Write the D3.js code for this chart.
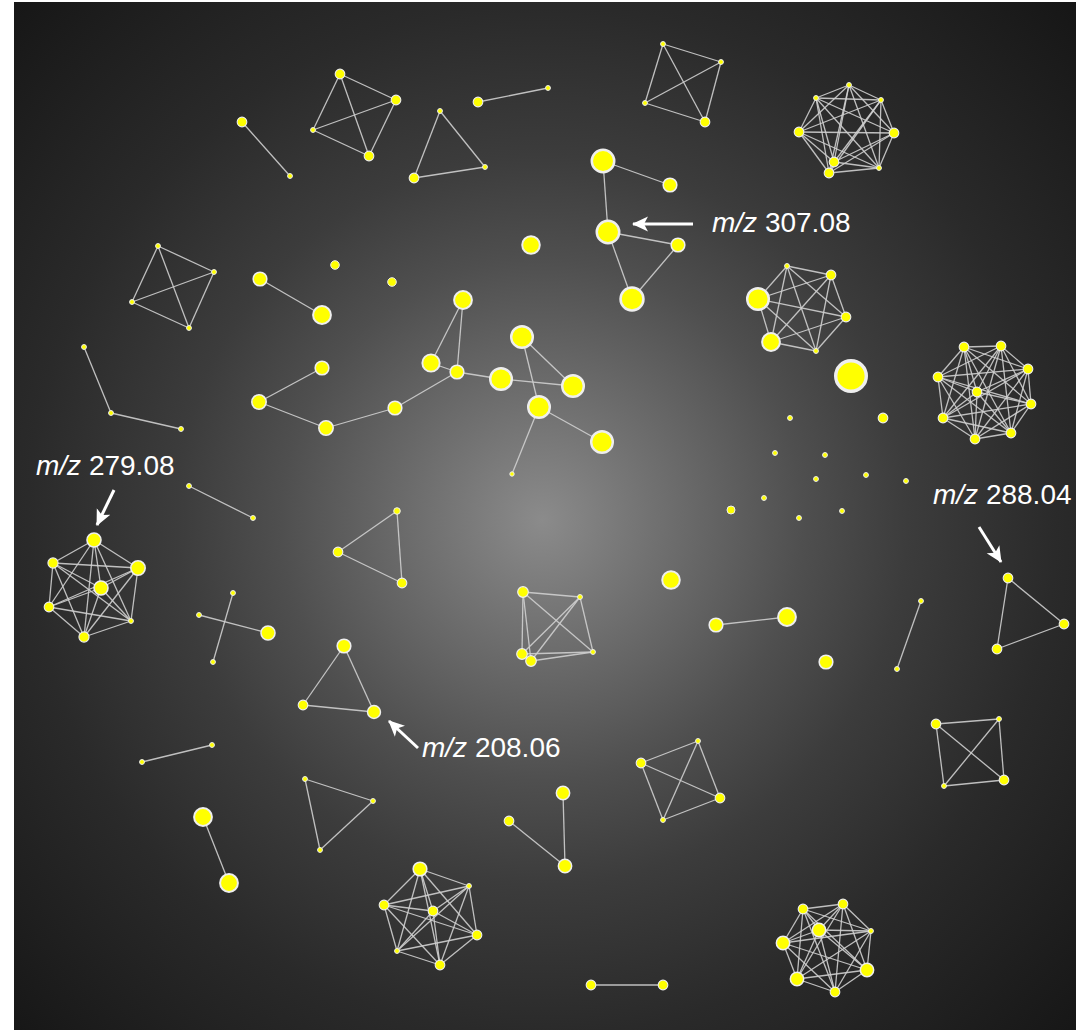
<!DOCTYPE html>
<html>
<head>
<meta charset="utf-8">
<script src="https://cdn.jsdelivr.net/npm/d3@7"></script>
<style>
  html, body { margin: 0; padding: 0; background: #ffffff; }
  svg { display: block; }
</style>
</head>
<body>
<svg id="chart" width="1076" height="1030"></svg>
<script>
// Molecular network: nodes = spectra [id, layoutX, layoutY, intensity]
const nodes = [
  ["a1",326,72,10],["a2",299,128,3],["a3",382,98,10],["a4",355,154,10],
  ["b1",228,120,10],["b2",276,174,3],
  ["c1",426,109,3],["c2",400,176,10],["c3",471,165,3],
  ["d1",464,100,10],["d2",534,86,3],
  ["e1",649,42,3],["e2",707,60,3],["e3",631,101,3],["e4",691,120,10],
  ["f1",835,83,3],["f2",802,96,3],["f3",867,98,3],["f4",785,130,10],
  ["f5",880,131,10],["f6",820,160,10],["f7",815,171,10],["f8",865,166,3],
  ["g1",589,159,54],["g2",656,183,20],["g3",594,230,54],["g4",664,243,20],["g5",618,297,56],
  ["s1",517,243,33],["s2",321,263,8],["s3",378,280,8],
  ["h1",144,244,3],["h2",200,270,3],["h3",118,300,3],["h4",175,326,3],
  ["i1",246,277,20],["i2",308,313,34],
  ["j1",70,345,3],["j2",97,411,3],["j3",167,427,3],
  ["A",308,366,20],["B",245,400,22],["C",312,426,22],["D",381,406,20],["E",443,370,20],
  ["F",449,298,34],["G",417,361,32],["H",487,377,50],["I",508,335,50],["J",559,384,50],
  ["K",525,405,50],["L",588,440,50],["M",498,472,2.5],
  ["k1",773,264,3],["k2",817,273,10],["k3",744,297,50],["k4",832,315,10],["k5",757,340,34],["k6",802,349,3],
  ["s4",837,374,100],["s5",869,416,10],
  ["t1",776,416,3],["t2",761,451,3],["t3",811,453,3],["t4",802,477,3],["t5",852,473,3],
  ["t6",892,479,3],["t7",750,496,3],["t8",828,509,3],["t9",717,508,7],["t10",785,516,3],
  ["m1",950,345,10],["m2",987,344,10],["m3",1014,367,10],["m4",924,375,10],["m5",963,390,10],
  ["m6",1017,402,10],["m7",929,416,10],["m8",997,431,10],["m9",961,437,10],
  ["n1",175,484,3],["n2",239,516,3],
  ["o1",80,538,21],["o2",39,561,11],["o3",124,566,22],["o4",87,586,21],["o5",35,605,10],["o6",117,619,3],["o7",70,635,11],
  ["p1",185,613,3],["p2",254,631,21],["p3",219,591,3],["p4",199,660,3],
  ["q1",324,550,10],["q2",383,509,5],["q3",388,581,10],
  ["r1",330,644,20],["r2",289,703,10],["r3",360,710,18],
  ["u1",128,760,3],["u2",198,743,3],
  ["v1",509,590,12],["v2",566,595,3],["v3",508,652,12],["v4",517,659,12],["v5",579,650,3],
  ["s6",657,578,33],
  ["w1",702,623,20],["w2",773,615,34],
  ["s7",812,660,20],
  ["x1",907,599,3],["x2",883,667,3],
  ["y1",994,576,10],["y2",1050,622,10],["y3",983,647,10],
  ["z1",922,722,10],["z2",985,717,3],["z3",930,784,3],["z4",990,778,10],
  ["aa1",627,761,10],["aa2",684,739,3],["aa3",706,796,10],["aa4",649,818,3],
  ["bb1",189,815,34],["bb2",215,881,34],
  ["cc1",291,777,3],["cc2",359,799,3],["cc3",306,848,3],
  ["dd1",549,791,19],["dd2",495,819,10],["dd3",551,864,19],
  ["ee1",406,867,20],["ee2",455,884,3],["ee3",370,903,10],["ee4",419,909,10],
  ["ee5",463,933,10],["ee6",383,949,3],["ee7",426,963,10],
  ["ff1",577,983,10],["ff2",649,983,10],
  ["gg1",789,907,10],["gg2",829,902,10],["gg3",857,929,3],["gg4",805,928,19],
  ["gg5",769,941,19],["gg6",853,968,19],["gg7",783,977,19],["gg8",821,990,10]
];

// Fully connected clusters (every member pair is linked)
const cliques = [
  ["a1","a2","a3","a4"],
  ["c1","c2","c3"],
  ["e1","e2","e3","e4"],
  ["f1","f2","f3","f4","f5","f6","f7","f8"],
  ["h1","h2","h3","h4"],
  ["k1","k2","k3","k4","k5","k6"],
  ["m1","m2","m3","m4","m5","m6","m7","m8","m9"],
  ["o1","o2","o3","o4","o5","o6","o7"],
  ["q1","q2","q3"],
  ["r1","r2","r3"],
  ["v1","v2","v3","v4","v5"],
  ["y1","y2","y3"],
  ["z1","z2","z3","z4"],
  ["aa1","aa2","aa3","aa4"],
  ["cc1","cc2","cc3"],
  ["ee1","ee2","ee3","ee4","ee5","ee6","ee7"],
  ["gg1","gg2","gg3","gg4","gg5","gg6","gg7","gg8"]
];

// Remaining pairwise spectral similarity links
const links = [
  ["b1","b2"],["d1","d2"],
  ["g1","g2"],["g1","g3"],["g3","g4"],["g3","g5"],["g4","g5"],
  ["i1","i2"],["j1","j2"],["j2","j3"],
  ["A","B"],["B","C"],["C","D"],["D","E"],["E","F"],["G","F"],["G","E"],
  ["E","H"],["H","J"],["I","J"],["I","K"],["K","L"],["K","M"],
  ["n1","n2"],["p1","p2"],["p3","p4"],["u1","u2"],["w1","w2"],["x1","x2"],
  ["bb1","bb2"],["dd1","dd3"],["dd2","dd3"],["ff1","ff2"]
];

// Annotated precursor ions: node, m/z, arrow tip/tail and label offsets (px)
const annotations = [
  {node: "g3", mz: "307.08", tip: [25, -8], tail: [85, -8], text: [104, 0]},
  {node: "o1", mz: "279.08", tip: [3, -15], tail: [20, -50], text: [-58, -65]},
  {node: "y1", mz: "288.04", tip: [-7, -16], tail: [-29, -51], text: [-75, -74]},
  {node: "r3", mz: "208.06", tip: [15, 9], tail: [44, 36], text: [48, 45]}
];

const W = 1076, H = 1030;
const plot = {x: 14, y: 2, w: 1062, h: 1028};

const svg = d3.select("#chart");
const defs = svg.append("defs");

const grad = defs.append("radialGradient")
  .attr("id", "bg")
  .attr("gradientUnits", "userSpaceOnUse")
  .attr("cx", 542).attr("cy", 520).attr("r", 745);
[[0, "#8b8b8b"], [0.15, "#717171"], [0.35, "#4f4f4f"], [0.49, "#3c3c3c"], [0.69, "#2a2a2a"], [1, "#161616"]]
  .forEach(([o, c]) => grad.append("stop").attr("offset", o).attr("stop-color", c));

defs.append("marker")
  .attr("id", "head")
  .attr("markerUnits", "userSpaceOnUse")
  .attr("viewBox", "0 -8 16 16")
  .attr("refX", 15).attr("refY", 0)
  .attr("markerWidth", 16).attr("markerHeight", 16)
  .attr("orient", "auto")
  .append("path")
  .attr("d", "M0,-7.5L16,0L0,7.5L4,0Z")
  .attr("fill", "#ffffff");

svg.append("rect")
  .attr("x", plot.x).attr("y", plot.y)
  .attr("width", plot.w).attr("height", plot.h)
  .attr("fill", "url(#bg)");

const x = d3.scaleLinear().domain([0, plot.w]).range([plot.x, plot.x + plot.w]);
const y = d3.scaleLinear().domain([0, plot.h]).range([plot.y, plot.y + plot.h]);
const size = d3.scaleSqrt().domain([0, 100]).range([0, 17]);

const nodeData = nodes.map(([id, lx, ly, v]) => ({id, lx, ly, v}));
const byId = new Map(nodeData.map(d => [d.id, d]));

const edgeList = links.slice();
cliques.forEach(members => {
  members.forEach((a, i) => members.slice(i + 1).forEach(b => edgeList.push([a, b])));
});

svg.append("g")
  .selectAll("line")
  .data(edgeList)
  .join("line")
  .attr("x1", d => x(byId.get(d[0]).lx))
  .attr("y1", d => y(byId.get(d[0]).ly))
  .attr("x2", d => x(byId.get(d[1]).lx))
  .attr("y2", d => y(byId.get(d[1]).ly))
  .attr("stroke", "#cfcfcf")
  .attr("stroke-width", 1.3)
  .attr("stroke-opacity", 0.9);

const sw = d => Math.max(1, size(d.v) * 0.2);
svg.append("g")
  .selectAll("circle")
  .data(nodeData)
  .join("circle")
  .attr("cx", d => x(d.lx))
  .attr("cy", d => y(d.ly))
  .attr("r", d => size(d.v) - sw(d) / 2)
  .attr("fill", "#ffff00")
  .attr("stroke", "#eeeeee")
  .attr("stroke-width", sw);

const ann = svg.append("g");
annotations.forEach(a => {
  const n = byId.get(a.node);
  const cx = x(n.lx), cy = y(n.ly);
  ann.append("line")
    .attr("x1", cx + a.tail[0]).attr("y1", cy + a.tail[1])
    .attr("x2", cx + a.tip[0]).attr("y2", cy + a.tip[1])
    .attr("stroke", "#ffffff")
    .attr("stroke-width", 3)
    .attr("marker-end", "url(#head)");
  const t = ann.append("text")
    .attr("x", cx + a.text[0]).attr("y", cy + a.text[1])
    .attr("fill", "#ffffff")
    .attr("font-family", "'Liberation Sans', Arial, sans-serif")
    .attr("font-size", 28);
  t.append("tspan").attr("font-style", "italic").text("m/z");
  t.append("tspan").text(" " + a.mz);
});
</script>
</body>
</html>
